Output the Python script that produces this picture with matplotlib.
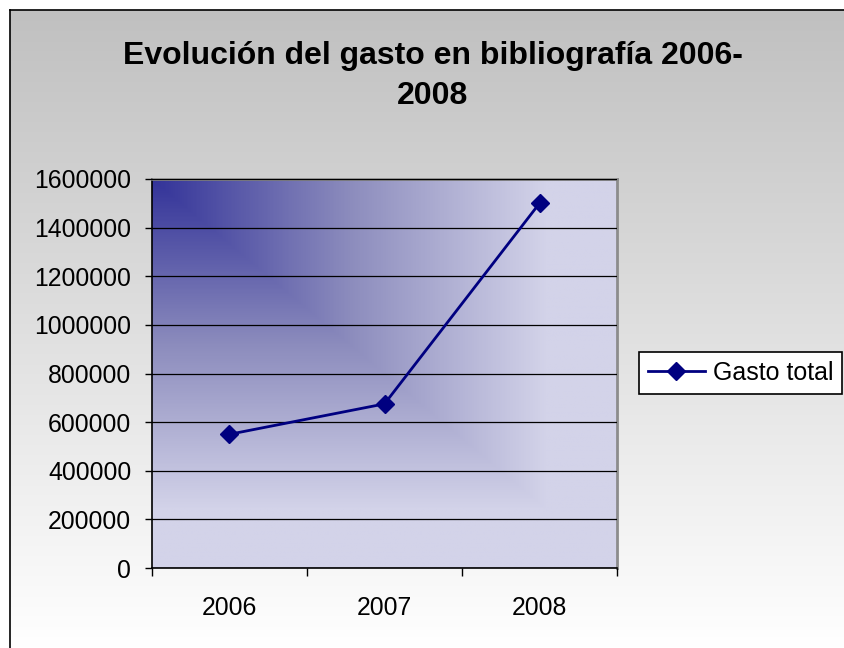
import numpy as np
import matplotlib.pyplot as plt
from matplotlib.colors import LinearSegmentedColormap
from matplotlib.lines import Line2D

plt.rcParams['font.family'] = ['Liberation Sans', 'DejaVu Sans']

years = ['2006', '2007', '2008']
gasto_total = [550000, 675000, 1500000]
y_ticks = [0, 200000, 400000, 600000, 800000, 1000000, 1200000, 1400000, 1600000]

W, H = 845, 648
fig = plt.figure(figsize=(W / 100, H / 100), dpi=100)

# chart background: vertical gray -> white gradient inside the frame
bg = fig.add_axes([0, 0, 1, 1], zorder=-10)
bg.set_axis_off()
rows = np.linspace(0, 1, 300)[:, None]
grad = 192 + (255 - 192) * rows
grad = np.repeat(grad, 2, axis=1) / 255.0
bg.imshow(np.dstack([grad, grad, grad]), aspect='auto',
          extent=[10 / W, 1, 0, 1 - 10 / H], transform=bg.transAxes, origin='upper')
bg.set_xlim(0, 1)
bg.set_ylim(0, 1)
bg.plot([10 / W, 10 / W], [0, 1 - 10 / H], color='black', lw=1.2, transform=bg.transAxes)
bg.plot([10 / W, 1], [1 - 10 / H, 1 - 10 / H], color='black', lw=1.2, transform=bg.transAxes)

# plot area
ax = fig.add_axes([152 / W, (H - 568) / H, 465 / W, 389 / H])
ax.set_facecolor('none')

cmap = LinearSegmentedColormap.from_list('plotarea', ['#333399', '#8c8cbd', '#d3d3e9'])
u = np.linspace(0, 1, 400)[None, :]
v = np.linspace(0, 1, 400)[:, None]
t = np.clip(np.maximum(u, v) / 0.85, 0, 1)
ax.imshow(t, cmap=cmap, aspect='auto', extent=[0, 1, 0, 1],
          transform=ax.transAxes, origin='upper', zorder=0)

x = np.arange(len(years))
ax.plot(x, gasto_total, color='#000080', lw=2, marker='D', markersize=9,
        markerfacecolor='#000080', markeredgecolor='#000080', zorder=3,
        label='Gasto total')

ax.set_xlim(-0.5, 2.5)
ax.set_ylim(0, 1600000)
ax.set_yticks(y_ticks)
ax.set_yticklabels([str(v) for v in y_ticks])
ax.set_xticks([-0.5, 0.5, 1.5, 2.5])
ax.set_xticklabels([])
ax.set_xticks(x, minor=True)
ax.set_xticklabels(years, minor=True)

ax.tick_params(axis='y', direction='out', length=5, width=1, color='black',
               labelsize=17.8, pad=10)
ax.tick_params(axis='x', which='major', direction='out', length=6, width=1, color='black')
ax.tick_params(axis='x', which='minor', length=0, labelsize=17.8, pad=20)

ax.yaxis.grid(True, color='black', lw=0.9, zorder=1)
ax.set_axisbelow(False)
for line in ax.get_ygridlines():
    line.set_zorder(1)

for side in ['left', 'bottom']:
    ax.spines[side].set_color('black')
    ax.spines[side].set_linewidth(1.2)
for side in ['top', 'right']:
    ax.spines[side].set_color('#8c8c8c')
    ax.spines[side].set_linewidth(2)

fig.text(433 / W, 1 - 76 / H, 'Evolución del gasto en bibliografía 2006-\n2008',
         ha='center', va='center', fontsize=23, fontweight='bold', linespacing=1.45)

handle = Line2D([], [], color='#000080', lw=2, marker='D', markersize=9,
                markerfacecolor='#000080', markeredgecolor='#000080')
leg = fig.legend([handle], ['Gasto total'], loc='center left',
                 bbox_to_anchor=(639 / W, 1 - 373 / H), borderaxespad=0,
                 fontsize=18, frameon=True, fancybox=False, framealpha=1,
                 edgecolor='black', facecolor='white', handlelength=2.3,
                 handletextpad=0.3, borderpad=0.35)
leg.get_frame().set_linewidth(1.2)

fig.savefig('out.png', dpi=100)
